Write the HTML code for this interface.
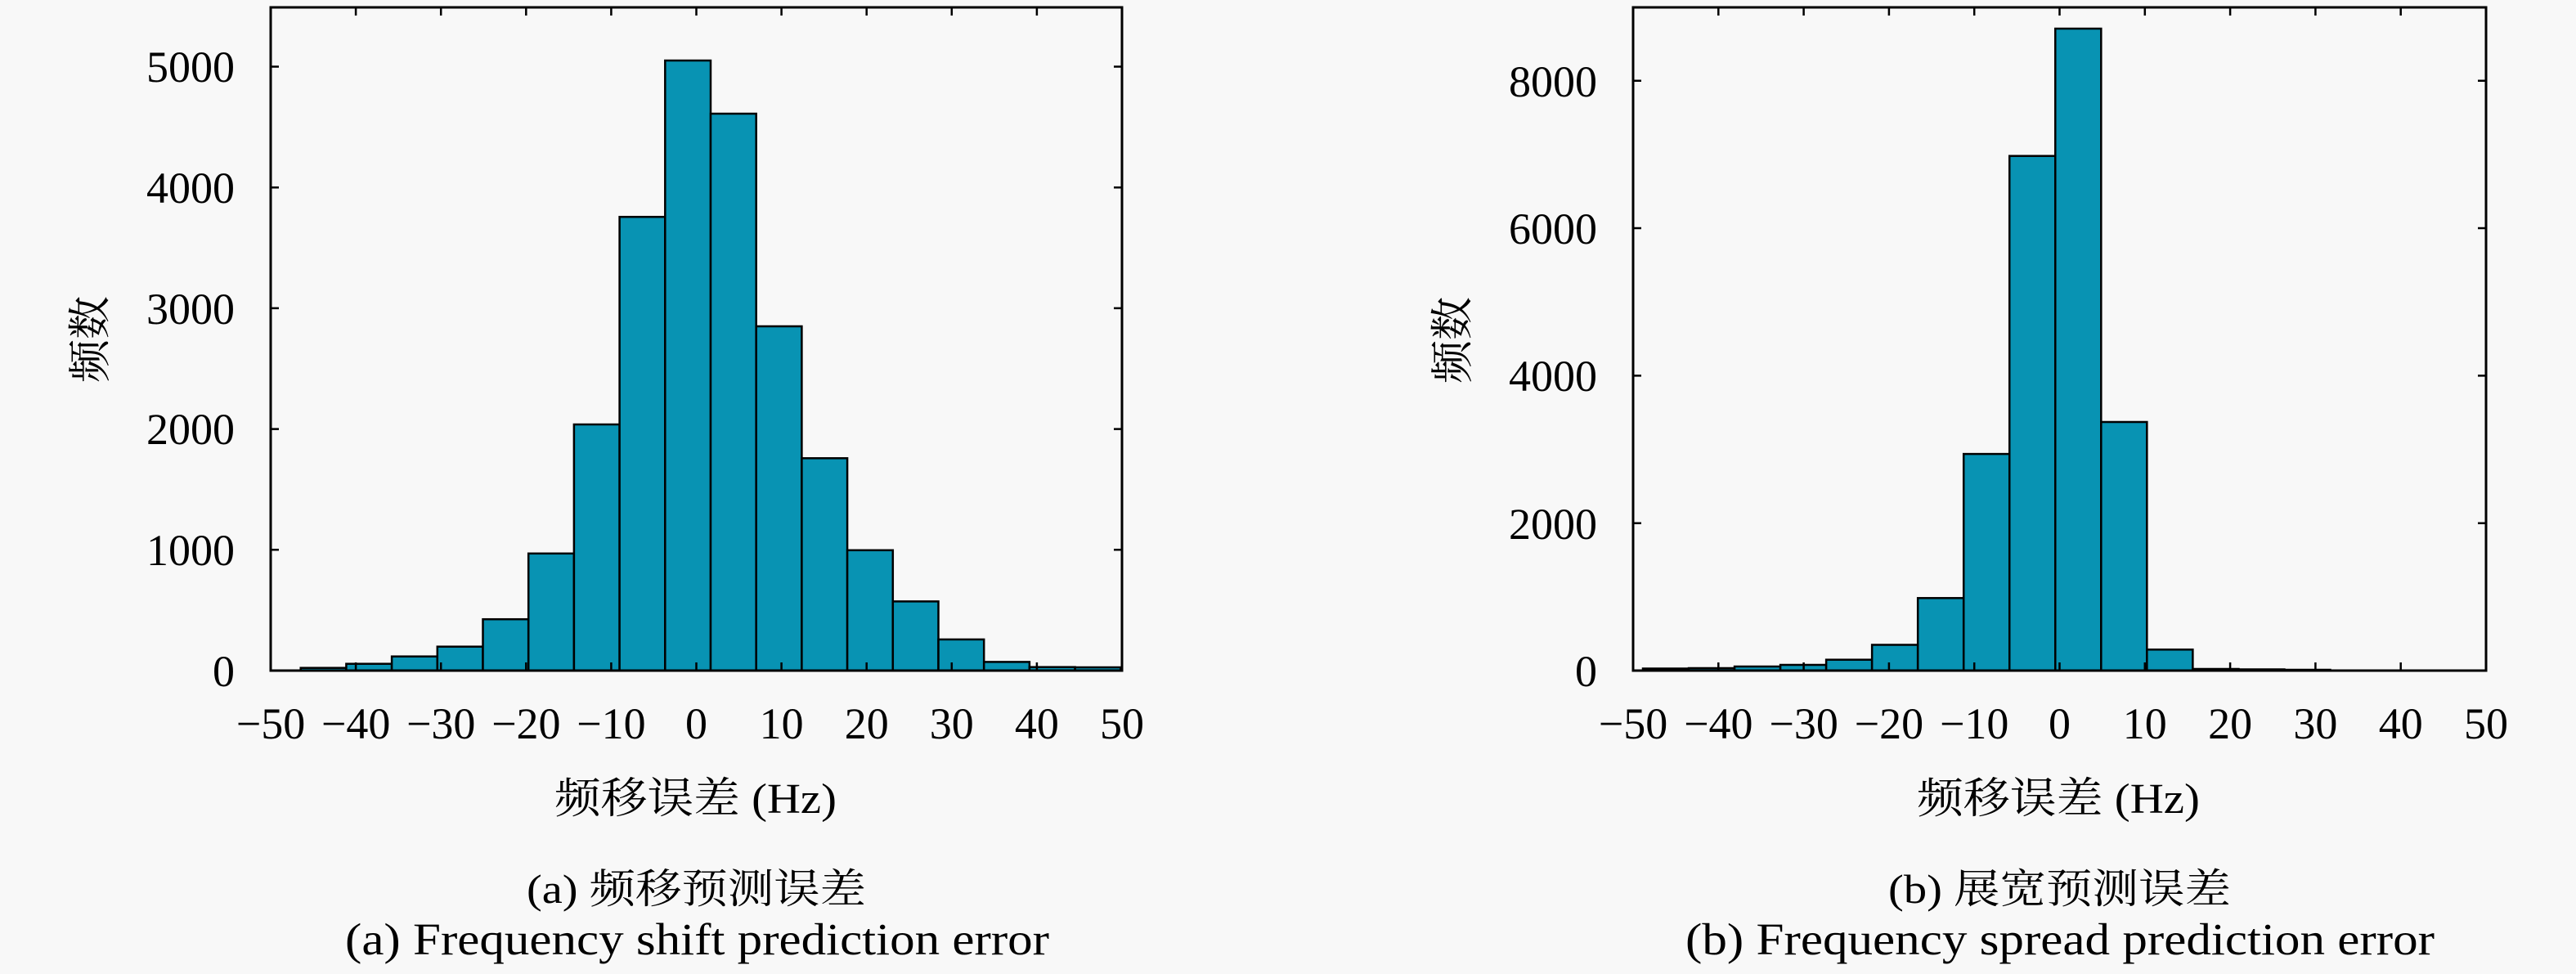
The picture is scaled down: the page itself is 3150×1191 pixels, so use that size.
<!DOCTYPE html>
<html>
<head>
<meta charset="utf-8">
<style>
html,body{margin:0;padding:0;background:#f8f8f8;}
svg{display:block;}
text{font-family:"Liberation Serif","Noto Serif CJK SC",serif;fill:#000;}
</style>
</head>
<body>
<svg width="3150" height="1191" viewBox="0 0 3150 1191" xmlns="http://www.w3.org/2000/svg">
<rect x="0" y="0" width="3150" height="1191" fill="#f8f8f8"/>

<!-- ===== LEFT PLOT ===== -->
<g fill="#0893b3" stroke="#000" stroke-width="2.5">
<rect x="367.7" y="816.7" width="55.7" height="3.3"/>
<rect x="423.4" y="811.7" width="55.7" height="8.3"/>
<rect x="479.1" y="802.7" width="55.7" height="17.3"/>
<rect x="534.8" y="790.7" width="55.7" height="29.3"/>
<rect x="590.5" y="757.2" width="55.7" height="62.8"/>
<rect x="646.2" y="676.8" width="55.7" height="143.2"/>
<rect x="701.9" y="519" width="55.7" height="301"/>
<rect x="757.6" y="265.2" width="55.7" height="554.8"/>
<rect x="813.3" y="74" width="55.7" height="746"/>
<rect x="869" y="139" width="55.7" height="681"/>
<rect x="924.7" y="399" width="55.7" height="421"/>
<rect x="980.4" y="560.3" width="55.7" height="259.7"/>
<rect x="1036.1" y="672.8" width="55.7" height="147.2"/>
<rect x="1091.8" y="735.4" width="55.7" height="84.6"/>
<rect x="1147.5" y="781.9" width="55.7" height="38.1"/>
<rect x="1203.2" y="809.4" width="55.7" height="10.6"/>
<rect x="1258.9" y="815.7" width="55.7" height="4.3"/>
<rect x="1314.6" y="816" width="55.7" height="4"/>
</g>
<rect x="331" y="9" width="1041" height="811" fill="none" stroke="#000" stroke-width="3"/>
<g stroke="#000" stroke-width="2.5">
<!-- x ticks bottom & top -->
<path d="M435.1 820v-10M539.2 820v-10M643.3 820v-10M747.4 820v-10M851.5 820v-10M955.6 820v-10M1059.7 820v-10M1163.8 820v-10M1267.9 820v-10"/>
<path d="M435.1 9v10M539.2 9v10M643.3 9v10M747.4 9v10M851.5 9v10M955.6 9v10M1059.7 9v10M1163.8 9v10M1267.9 9v10"/>
<!-- y ticks left & right -->
<path d="M331 672.3h10M331 524.6h10M331 376.9h10M331 229.2h10M331 81.5h10"/>
<path d="M1372 672.3h-10M1372 524.6h-10M1372 376.9h-10M1372 229.2h-10M1372 81.5h-10"/>
</g>
<g font-size="54" text-anchor="end">
<text x="287" y="839">0</text>
<text x="287" y="691">1000</text>
<text x="287" y="543">2000</text>
<text x="287" y="396">3000</text>
<text x="287" y="248">4000</text>
<text x="287" y="100">5000</text>
</g>
<g font-size="54" text-anchor="middle">
<text x="331" y="903">−50</text>
<text x="435.1" y="903">−40</text>
<text x="539.2" y="903">−30</text>
<text x="643.3" y="903">−20</text>
<text x="747.4" y="903">−10</text>
<text x="851.5" y="903">0</text>
<text x="955.6" y="903">10</text>
<text x="1059.7" y="903">20</text>
<text x="1163.8" y="903">30</text>
<text x="1267.9" y="903">40</text>
<text x="1372" y="903">50</text>
</g>
<text x="678" y="994" font-size="52" textLength="345" lengthAdjust="spacingAndGlyphs">频移误差 (Hz)</text>
<text transform="translate(111,415) rotate(-90)" font-size="53" text-anchor="middle" dominant-baseline="central">频数</text>
<text x="644" y="1104" font-size="50" textLength="415" lengthAdjust="spacingAndGlyphs">(a) 频移预测误差</text>
<text x="422" y="1167" font-size="55" textLength="861" lengthAdjust="spacingAndGlyphs">(a) Frequency shift prediction error</text>

<!-- ===== RIGHT PLOT ===== -->
<g fill="#0893b3" stroke="#000" stroke-width="2.5">
<rect x="2009" y="817.5" width="56.03" height="2.5"/>
<rect x="2065.03" y="817" width="56.03" height="3"/>
<rect x="2121.06" y="815" width="56.03" height="5"/>
<rect x="2177.09" y="813" width="56.03" height="7"/>
<rect x="2233.12" y="806.7" width="56.03" height="13.3"/>
<rect x="2289.15" y="788.5" width="56.03" height="31.5"/>
<rect x="2345.18" y="731.3" width="56.03" height="88.7"/>
<rect x="2401.21" y="555.1" width="56.03" height="264.9"/>
<rect x="2457.24" y="190.7" width="56.03" height="629.3"/>
<rect x="2513.27" y="35" width="56.03" height="785"/>
<rect x="2569.3" y="516" width="56.03" height="304"/>
<rect x="2625.33" y="794.3" width="56.03" height="25.7"/>
<rect x="2681.36" y="818" width="56.03" height="2"/>
<rect x="2737.39" y="818.5" width="56.03" height="1.5"/>
<rect x="2793.42" y="819" width="56.03" height="1"/>
</g>
<rect x="1997" y="9" width="1043" height="811" fill="none" stroke="#000" stroke-width="3"/>
<g stroke="#000" stroke-width="2.5">
<path d="M2101.3 820v-10M2205.6 820v-10M2309.9 820v-10M2414.2 820v-10M2518.5 820v-10M2622.8 820v-10M2727.1 820v-10M2831.4 820v-10M2935.7 820v-10"/>
<path d="M2101.3 9v10M2205.6 9v10M2309.9 9v10M2414.2 9v10M2518.5 9v10M2622.8 9v10M2727.1 9v10M2831.4 9v10M2935.7 9v10"/>
<path d="M1997 639.7h10M1997 459.4h10M1997 279h10M1997 98.7h10"/>
<path d="M3040 639.7h-10M3040 459.4h-10M3040 279h-10M3040 98.7h-10"/>
</g>
<g font-size="54" text-anchor="end">
<text x="1953" y="839">0</text>
<text x="1953" y="659">2000</text>
<text x="1953" y="478">4000</text>
<text x="1953" y="298">6000</text>
<text x="1953" y="118">8000</text>
</g>
<g font-size="54" text-anchor="middle">
<text x="1997" y="903">−50</text>
<text x="2101.3" y="903">−40</text>
<text x="2205.6" y="903">−30</text>
<text x="2309.9" y="903">−20</text>
<text x="2414.2" y="903">−10</text>
<text x="2518.5" y="903">0</text>
<text x="2622.8" y="903">10</text>
<text x="2727.1" y="903">20</text>
<text x="2831.4" y="903">30</text>
<text x="2935.7" y="903">40</text>
<text x="3040" y="903">50</text>
</g>
<text x="2344" y="994" font-size="52" textLength="346" lengthAdjust="spacingAndGlyphs">频移误差 (Hz)</text>
<text transform="translate(1777,416) rotate(-90)" font-size="53" text-anchor="middle" dominant-baseline="central">频数</text>
<text x="2309" y="1104" font-size="50" textLength="419" lengthAdjust="spacingAndGlyphs">(b) 展宽预测误差</text>
<text x="2061" y="1167" font-size="55" textLength="916" lengthAdjust="spacingAndGlyphs">(b) Frequency spread prediction error</text>
</svg>
</body>
</html>
